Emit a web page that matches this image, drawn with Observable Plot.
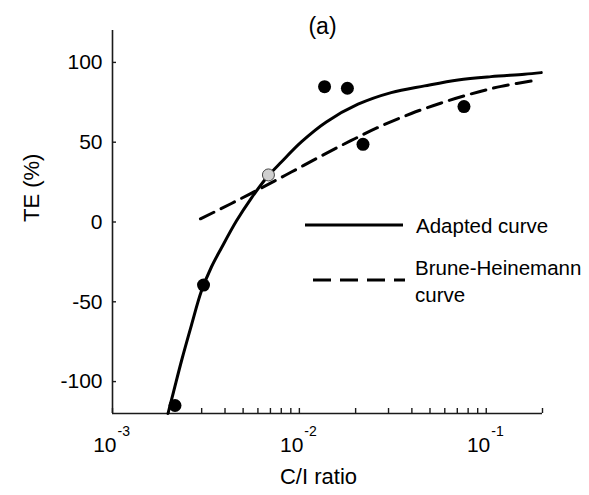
<!DOCTYPE html>
<html><head><meta charset="utf-8">
<script src="https://cdn.jsdelivr.net/npm/d3@7"></script>
<script src="https://cdn.jsdelivr.net/npm/@observablehq/plot@0.6"></script>
<style>
body{margin:0;background:#fff;}
#wrap{position:relative;width:589px;height:495px;font-family:"Liberation Sans",Arial,sans-serif;}
#legend{position:absolute;left:0;top:0;pointer-events:none;}
</style></head><body><div id="wrap"></div>
<script>
// ---- data ----
const adaptedX = [0.001981, 0.00212, 0.002339, 0.002646, 0.002991, 0.003383, 0.003827, 0.004602, 0.005536, 0.006659, 0.00801, 0.01025, 0.01394, 0.0206, 0.031, 0.0468, 0.0706, 0.106, 0.160, 0.197];
const adaptedY = [-120, -106.6, -87.1, -64.6, -43.3, -28.2, -16.3, 0.6, 15.0, 27.6, 37.6, 50.2, 62.7, 73.8, 81.1, 85.3, 89, 91.1, 92.6, 93.6];
const bruneX = [0.002955, 0.004329, 0.006263, 0.009062, 0.01311, 0.01897, 0.02745, 0.03972, 0.05745, 0.08313, 0.1203, 0.1897];
const bruneY = [2.0, 11.6, 21.3, 31.3, 41.4, 51.1, 60.2, 68.0, 74.6, 80.3, 85.0, 89.0];
const obsX = [0.00216, 0.00307, 0.01364, 0.01807, 0.0219, 0.076];
const obsY = [-115, -39.5, 84.8, 83.8, 48.7, 72.3];
const greyX = [0.00683];
const greyY = [29.5];
const majorTicks = [1e-3, 1e-2, 1e-1];
const tickExponents = ["-3", "-2", "-1"];
const minorTicks = [2e-3,3e-3,4e-3,5e-3,6e-3,7e-3,8e-3,9e-3,2e-2,3e-2,4e-2,5e-2,6e-2,7e-2,8e-2,9e-2,2e-1];
const yTicks = [-100, -50, 0, 50, 100];
const legendLabels = ["Adapted curve", "Brune-Heinemann", "curve"];
const titleText = "(a)";
const xLabel = "C/I ratio";
const yLabel = "TE (%)";

// ---- tables ----
const adapted = adaptedX.map((x, i) => ({x, y: adaptedY[i]}));
const brune = bruneX.map((x, i) => ({x, y: bruneY[i]}));
const obs = obsX.map((x, i) => ({x, y: obsY[i]}));
const grey = greyX.map((x, i) => ({x, y: greyY[i]}));
const majors = majorTicks.map((t, i) => ({t, e: tickExponents[i]}));

const font = '"Liberation Sans", Arial, sans-serif';
const ink = "#1a1a1a";

const chart = Plot.plot({
  width: 589, height: 495,
  marginLeft: 112, marginRight: 47, marginTop: 30, marginBottom: 82,
  style: {fontFamily: font, fontSize: "21px", color: "#000", background: "#fff"},
  x: {type: "log", domain: [1e-3, 0.2]},
  y: {domain: [-120, 120]},
  marks: [
    Plot.ruleX([1e-3], {stroke: ink, strokeWidth: 1.6}),
    Plot.ruleY([-120], {stroke: ink, strokeWidth: 1.6}),
    Plot.axisY({ticks: yTicks, tickSize: -4, tickPadding: 14, stroke: ink, strokeWidth: 1.4, fontSize: 21, label: null, tickFormat: d => String(d)}),
    Plot.axisX({ticks: majorTicks.concat(minorTicks), tickSize: -5, stroke: ink, strokeWidth: 1.4, tickFormat: () => "", label: null}),
    Plot.text(majors, {x: "t", frameAnchor: "bottom", text: () => "10", textAnchor: "end", lineAnchor: "bottom", dx: 4, dy: 38, fontSize: 21, fill: "#000"}),
    Plot.text(majors, {x: "t", frameAnchor: "bottom", text: "e", textAnchor: "start", lineAnchor: "bottom", dx: 5, dy: 22, fontSize: 14, fill: "#000"}),
    Plot.line(brune, {x: "x", y: "y", stroke: "#000", strokeWidth: 3, strokeDasharray: "15,8", curve: "catmull-rom"}),
    Plot.line(adapted, {x: "x", y: "y", stroke: "#000", strokeWidth: 3, curve: "catmull-rom"}),
    Plot.dot(obs, {x: "x", y: "y", r: 6.5, fill: "#000", stroke: "none"}),
    Plot.dot(grey, {x: "x", y: "y", r: 6, fill: "#cfcfcf", stroke: "#444", strokeWidth: 1}),
    Plot.text([titleText], {frameAnchor: "top", lineAnchor: "bottom", dx: -5, dy: 3, fontSize: 23, fill: "#000"}),
    Plot.text([xLabel], {frameAnchor: "bottom", lineAnchor: "bottom", dx: -9, dy: 70, fontSize: 22, fill: "#000"}),
    Plot.text([yLabel], {frameAnchor: "left", rotate: -90, dx: -81, fontSize: 22, fill: "#000"})
  ]
});

const wrap = document.getElementById("wrap");
wrap.appendChild(chart);

// ---- legend overlay ----
const svg = d3.select(wrap).append("svg").attr("id", "legend").attr("width", 589).attr("height", 495)
  .style("font-family", font).style("font-size", "20.5px");
svg.append("line").attr("x1", 305).attr("x2", 403).attr("y1", 225).attr("y2", 225)
  .attr("stroke", "#000").attr("stroke-width", 3);
svg.append("line").attr("x1", 313).attr("x2", 405).attr("y1", 280).attr("y2", 280)
  .attr("stroke", "#000").attr("stroke-width", 3).attr("stroke-dasharray", "18,9");
svg.append("text").attr("x", 416).attr("y", 233).text(legendLabels[0]);
svg.append("text").attr("x", 415).attr("y", 275).text(legendLabels[1]);
svg.append("text").attr("x", 415).attr("y", 302).text(legendLabels[2]);
</script></body></html>
